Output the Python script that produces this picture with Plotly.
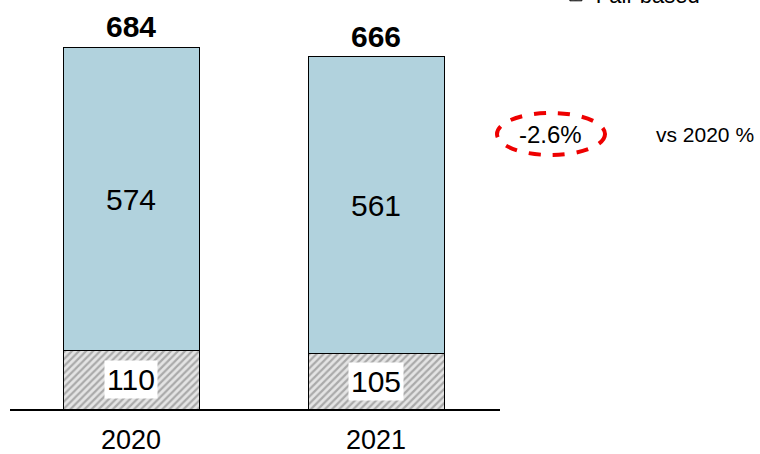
import plotly.graph_objects as go

years = ["2020", "2021"]
fair_based = [110, 105]
other = [574, 561]
totals = [684, 666]
change_label = "-2.6%"
change_note = "vs 2020 %"
legend_name = "Fair based"

FONT = "Liberation Sans, Arial, sans-serif"

fig = go.Figure()
fig.add_trace(go.Bar(
    x=years, y=fair_based, name=legend_name,
    marker=dict(color="#d4d4d4",
                pattern=dict(shape="/", fgcolor="#707070", bgcolor="#e4e4e4", size=5, solidity=0.45),
                line=dict(color="black", width=1)),
    width=0.555, showlegend=True,
))
fig.add_trace(go.Bar(
    x=years, y=other, name="Other",
    marker=dict(color="#B1D2DD", line=dict(color="black", width=1)),
    width=0.555, showlegend=False,
))

ann = []
for i, (a, b, t) in enumerate(zip(fair_based, other, totals)):
    ann.append(dict(x=i, y=a / 2, text=str(a), showarrow=False,
                    font=dict(family=FONT, size=30, color="black"),
                    bgcolor="white", borderpad=2))
    ann.append(dict(x=i, y=a + b / 2, text=str(b), showarrow=False,
                    font=dict(family=FONT, size=30, color="black")))
    ann.append(dict(x=i, y=t, text="<b>%d</b>" % t, showarrow=False, yanchor="bottom", yshift=2,
                    font=dict(family=FONT, size=30, color="black")))

ann.append(dict(xref="paper", yref="paper", x=1.104, y=0.6892, xanchor="center", yanchor="middle",
                text=change_label, showarrow=False,
                font=dict(family=FONT, size=24, color="black")))
ann.append(dict(xref="paper", yref="paper", x=1.3143, y=0.6892, xanchor="left", yanchor="middle",
                text=change_note, showarrow=False, font=dict(family=FONT, size=21, color="black")))

fig.update_layout(
    barmode="stack",
    width=760, height=454,
    margin=dict(l=10, r=260, t=10, b=45, autoexpand=False),
    paper_bgcolor="white", plot_bgcolor="white",
    annotations=ann,
    shapes=[dict(type="circle", xref="paper", yref="paper", x0=0.9939, x1=1.2143, y0=0.6366, y1=0.7419,
                 line=dict(color="#ee0000", width=4, dash="dash"))],
    xaxis=dict(type="category", range=[-0.494, 1.506], showgrid=False, showline=True, linecolor="black",
               linewidth=2, ticks="", ticklabelstandoff=6,
               tickfont=dict(family=FONT, size=27, color="black")),
    yaxis=dict(range=[0, 754.3], visible=False, showgrid=False, zeroline=False),
    legend=dict(x=1.114, y=0.985, xanchor="left", yanchor="bottom", bgcolor="rgba(0,0,0,0)",
                font=dict(family=FONT, size=22, color="black"), itemwidth=30),
    showlegend=True,
)

fig.write_html("out.html", config={"displayModeBar": False},
               post_script="document.body.style.margin='0';")
